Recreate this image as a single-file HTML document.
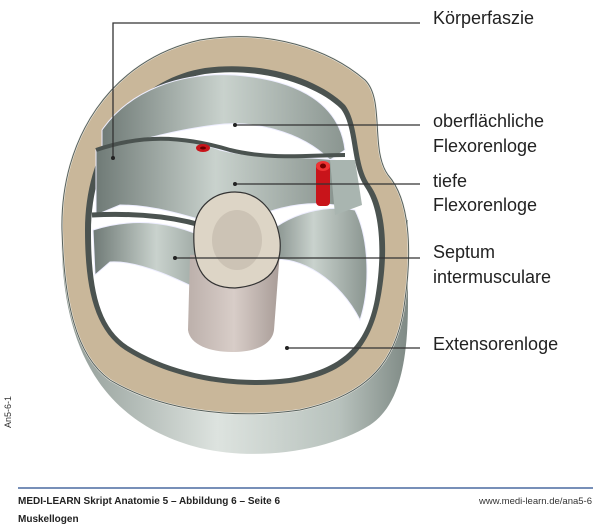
<!DOCTYPE html>
<html><head><meta charset="utf-8"><style>
html,body{margin:0;padding:0;background:#fff;}
svg{display:block;}
.l{font-family:"Liberation Sans Narrow","Liberation Sans",sans-serif;font-size:18px;fill:#222;}
.f{font-family:"Liberation Sans",sans-serif;font-size:10px;font-weight:bold;fill:#222;}
</style></head><body>
<svg width="600" height="528" viewBox="0 0 600 528" xmlns="http://www.w3.org/2000/svg">
<defs>
<linearGradient id="side" x1="0" x2="1" y1="0" y2="0">
<stop offset="0" stop-color="#8e9994"/><stop offset="0.45" stop-color="#dde3df"/><stop offset="0.8" stop-color="#b8c2bd"/><stop offset="1" stop-color="#7f8a85"/>
</linearGradient>
<linearGradient id="band" x1="0" x2="1" y1="0" y2="0">
<stop offset="0" stop-color="#6f7a76"/><stop offset="0.5" stop-color="#c9d2cd"/><stop offset="1" stop-color="#8a9590"/>
</linearGradient>
<linearGradient id="shaft" x1="0" x2="1" y1="0" y2="0">
<stop offset="0" stop-color="#bcb0ab"/><stop offset="0.5" stop-color="#d8cdc8"/><stop offset="1" stop-color="#a89c97"/>
</linearGradient>
</defs>
<path d="M62,220 C58,330 90,420 200,448 C260,462 330,450 370,425 C400,405 408,360 408,300 L408,220 Z" fill="url(#side)"/>
<path d="M62,230 C60,140 110,60 200,40 C270,28 330,50 365,80 C385,100 370,150 388,175 C410,200 412,250 405,300 C398,360 370,395 300,410 C230,420 160,410 110,380 C75,355 64,300 62,230 Z" fill="#c9b79a" stroke="#f3f0ea" stroke-width="2"/>
<path d="M62,230 C60,140 110,60 200,40 C270,28 330,50 365,80 C385,100 370,150 388,175 C410,200 412,250 405,300 C398,360 370,395 300,410 C230,420 160,410 110,380 C75,355 64,300 62,230 Z" fill="none" stroke="#55605c" stroke-width="1"/>
<path d="M85,230 C85,150 130,80 205,68 C265,60 320,80 345,105 C360,125 355,165 370,185 C388,210 388,260 380,300 C370,350 345,375 290,383 C230,390 170,378 125,350 C95,330 85,290 85,230 Z" fill="#4b5350"/>
<path d="M91,232 C91,155 133,86 205,74 C262,66 318,86 341,109 C355,128 350,165 365,187 C382,212 382,260 375,299 C366,346 342,369 289,378 C231,385 171,373 128,346 C99,327 91,289 91,232 Z" fill="#fff"/>
<path d="M102,130 C130,90 180,72 235,75 C300,80 340,105 345,150 L330,160 C300,130 250,120 215,125 C175,130 140,140 102,150 Z" fill="url(#band)" stroke="#eef" stroke-width="1"/>
<path d="M96,150 C140,135 180,135 220,150 C260,160 300,155 335,160 L335,205 C300,200 260,210 235,230 C200,220 160,205 120,205 L96,215 Z" fill="url(#band)" stroke="#eef" stroke-width="1"/>
<path d="M92,215 C150,212 200,220 240,240" stroke="#4b5350" stroke-width="5" fill="none"/>
<path d="M96,150 C140,135 180,135 230,150 C270,160 310,155 345,155" stroke="#4b5350" stroke-width="4" fill="none"/>
<path d="M93,230 C140,215 180,225 210,240 L220,300 C180,280 140,260 110,262 L95,275 Z" fill="url(#band)" stroke="#eef" stroke-width="1"/>
<path d="M260,240 C290,210 330,205 355,210 C370,240 370,290 360,320 C340,280 300,255 270,260 Z" fill="url(#band)" stroke="#eef" stroke-width="1"/>
<path d="M330,160 L335,215 L362,205 L355,160 Z" fill="#a9b5b0"/>
<path d="M190,255 L188,330 C190,345 210,352 232,352 C255,352 272,345 274,330 L280,250 Z" fill="url(#shaft)"/>
<path d="M194,230 C196,205 215,192 235,192 C258,192 276,210 280,240 C282,265 272,285 235,288 C205,288 192,270 194,230 Z" fill="#ddd5c6" stroke="#333" stroke-width="1.2"/>
<ellipse cx="237" cy="240" rx="25" ry="30" fill="#b9ae9f" opacity="0.45"/>
<rect x="316" y="162" width="14" height="44" rx="4" fill="#c8141a"/>
<ellipse cx="323" cy="166" rx="7" ry="5" fill="#e33"/>
<ellipse cx="323" cy="166" rx="3" ry="2.5" fill="#700"/>
<ellipse cx="203" cy="148" rx="7" ry="4" fill="#c8141a"/>
<ellipse cx="203" cy="148" rx="3" ry="1.5" fill="#600"/>
<g stroke="#333" stroke-width="1.3" fill="none">
<polyline points="420,23 113,23 113,158"/>
<line x1="235" y1="125" x2="420" y2="125"/>
<line x1="235" y1="184" x2="420" y2="184"/>
<line x1="175" y1="258" x2="420" y2="258"/>
<line x1="287" y1="348" x2="420" y2="348"/>
</g>
<g fill="#222"><circle cx="113" cy="158" r="2"/><circle cx="235" cy="125" r="2"/><circle cx="235" cy="184" r="2"/><circle cx="175" cy="258" r="2"/><circle cx="287" cy="348" r="2"/></g>
<text class="l" x="433" y="24">Körperfaszie</text>
<text class="l" x="433" y="127">oberflächliche</text>
<text class="l" x="433" y="152">Flexorenloge</text>
<text class="l" x="433" y="187">tiefe</text>
<text class="l" x="433" y="211">Flexorenloge</text>
<text class="l" x="433" y="258">Septum</text>
<text class="l" x="433" y="283">intermusculare</text>
<text class="l" x="433" y="350">Extensorenloge</text>
<text transform="translate(11,428) rotate(-90)" font-family="Liberation Sans Narrow,Liberation Sans,sans-serif" font-size="9" fill="#333">An5-6-1</text>
<line x1="18" y1="488" x2="593" y2="488" stroke="#4a6aa0" stroke-width="1.5"/>
<text class="f" x="18" y="504">MEDI-LEARN Skript Anatomie 5 – Abbildung 6 – Seite 6</text>
<text class="f" x="18" y="522">Muskellogen</text>
<text x="592" y="504" text-anchor="end" font-family="Liberation Sans Narrow,Liberation Sans,sans-serif" font-size="9.5" fill="#333">www.medi-learn.de/ana5-6</text>
</svg>
</body></html>
